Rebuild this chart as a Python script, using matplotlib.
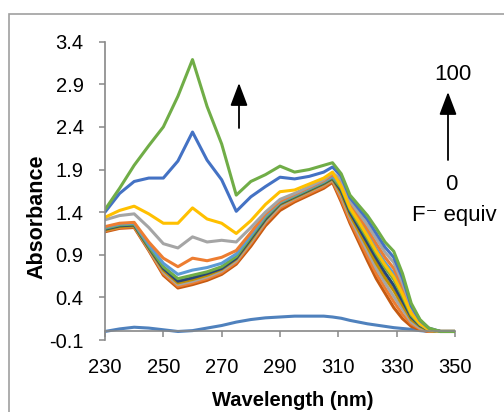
import matplotlib
matplotlib.use("Agg")
import matplotlib.pyplot as plt
from matplotlib.patches import Rectangle

plt.rcParams['font.family'] = ['Liberation Sans', 'DejaVu Sans']

# wavelength grid (nm) and absorbance traces
wl = [230, 235, 240, 245, 250, 255, 260, 265, 270, 275, 280, 285, 290, 295, 300, 305,
      308, 311, 314, 317, 320, 323, 326, 329, 332, 335, 338, 341, 345, 350]

# titration traces, lowest (0 equiv) to highest (100 equiv)
a_b1 = [1.17, 1.21, 1.22, 0.95, 0.66, 0.51, 0.55, 0.60, 0.67, 0.79, 1.00, 1.24, 1.42, 1.52, 1.60, 1.68,
        1.75, 1.52, 1.27, 1.05, 0.83, 0.62, 0.45, 0.28, 0.15, 0.06, 0.02, 0.00, 0.00, 0.00]
a_b2 = [1.18, 1.22, 1.23, 0.96, 0.68, 0.53, 0.57, 0.62, 0.69, 0.81, 1.03, 1.27, 1.45, 1.54, 1.62, 1.70,
        1.77, 1.55, 1.30, 1.09, 0.88, 0.68, 0.51, 0.35, 0.20, 0.09, 0.03, 0.00, 0.00, 0.00]
a_b3 = [1.19, 1.23, 1.24, 0.97, 0.70, 0.55, 0.59, 0.64, 0.71, 0.83, 1.05, 1.29, 1.47, 1.56, 1.64, 1.72,
        1.78, 1.59, 1.34, 1.14, 0.94, 0.74, 0.57, 0.41, 0.26, 0.11, 0.04, 0.01, 0.00, 0.00]
a_b4 = [1.19, 1.23, 1.24, 0.98, 0.72, 0.57, 0.61, 0.66, 0.73, 0.85, 1.07, 1.31, 1.49, 1.57, 1.65, 1.73,
        1.79, 1.62, 1.37, 1.18, 0.99, 0.80, 0.63, 0.48, 0.31, 0.14, 0.06, 0.01, 0.00, 0.00]
a_b5 = [1.20, 1.24, 1.25, 0.99, 0.74, 0.59, 0.63, 0.68, 0.74, 0.86, 1.09, 1.32, 1.50, 1.58, 1.66, 1.74,
        1.80, 1.65, 1.40, 1.22, 1.04, 0.86, 0.69, 0.54, 0.36, 0.17, 0.07, 0.02, 0.00, 0.00]
a_b6 = [1.21, 1.25, 1.26, 1.00, 0.76, 0.62, 0.66, 0.70, 0.76, 0.88, 1.11, 1.34, 1.51, 1.59, 1.67, 1.75,
        1.81, 1.68, 1.43, 1.26, 1.09, 0.91, 0.75, 0.61, 0.41, 0.19, 0.08, 0.02, 0.00, 0.00]
a_b7 = [1.22, 1.26, 1.27, 1.02, 0.80, 0.67, 0.72, 0.75, 0.80, 0.91, 1.13, 1.36, 1.52, 1.60, 1.68, 1.76,
        1.82, 1.72, 1.47, 1.31, 1.15, 0.97, 0.81, 0.68, 0.47, 0.22, 0.09, 0.02, 0.00, 0.00]
a_b8 = [1.23, 1.27, 1.28, 1.05, 0.86, 0.76, 0.86, 0.83, 0.87, 0.95, 1.16, 1.38, 1.53, 1.61, 1.69, 1.77,
        1.84, 1.75, 1.50, 1.35, 1.20, 1.03, 0.87, 0.74, 0.52, 0.25, 0.10, 0.03, 0.00, 0.00]
a_gray = [1.31, 1.36, 1.38, 1.22, 1.03, 0.98, 1.11, 1.05, 1.07, 1.05, 1.22, 1.40, 1.55, 1.62, 1.70, 1.78,
          1.86, 1.78, 1.53, 1.39, 1.25, 1.09, 0.93, 0.81, 0.57, 0.28, 0.12, 0.03, 0.00, 0.00]
a_yel = [1.34, 1.42, 1.47, 1.38, 1.27, 1.27, 1.45, 1.32, 1.27, 1.15, 1.30, 1.49, 1.64, 1.66, 1.73, 1.80,
         1.87, 1.70, 1.45, 1.29, 1.12, 0.94, 0.78, 0.64, 0.44, 0.21, 0.09, 0.02, 0.00, 0.00]
a_blue = [1.40, 1.62, 1.76, 1.80, 1.80, 2.00, 2.34, 2.01, 1.78, 1.41, 1.58, 1.70, 1.81, 1.79, 1.82, 1.87,
          1.93, 1.82, 1.57, 1.44, 1.31, 1.15, 0.99, 0.87, 0.63, 0.30, 0.13, 0.04, 0.00, 0.00]
a_green = [1.43, 1.68, 1.95, 2.18, 2.40, 2.76, 3.19, 2.64, 2.20, 1.60, 1.76, 1.84, 1.94, 1.87, 1.90, 1.95,
           1.98, 1.85, 1.60, 1.48, 1.36, 1.21, 1.05, 0.94, 0.68, 0.33, 0.14, 0.04, 0.00, 0.00]
# near-zero trace
a_base = [0.00, 0.03, 0.05, 0.04, 0.02, 0.00, 0.01, 0.04, 0.07, 0.11, 0.14, 0.16, 0.17, 0.18, 0.18, 0.18,
          0.17, 0.155, 0.13, 0.11, 0.09, 0.075, 0.06, 0.045, 0.035, 0.025, 0.01, 0.00, 0.00, 0.00]

traces = [a_base, a_b1, a_b2, a_b3, a_b4, a_b5, a_b6, a_b7, a_b8,
          a_gray, a_yel, a_blue, a_green]
colors = ["#4F81BD", "#C55A11", "#ED7D31", "#A5A5A5", "#BF9000", "#264478",
          "#70AD47", "#5B9BD5", "#ED7D31", "#A5A5A5", "#FFC000", "#4472C4", "#70AD47"]

xticks = [230, 250, 270, 290, 310, 330, 350]
yticks = [-0.1, 0.4, 0.9, 1.4, 1.9, 2.4, 2.9, 3.4]

W, H = 504, 412
fig = plt.figure(figsize=(W / 100, H / 100), dpi=100)
ax = fig.add_axes([105 / W, 1 - 340 / H, 350 / W, 298.3 / H])

for y, c in zip(traces, colors):
    ax.plot(wl, y, color=c, lw=2.2, solid_capstyle='round', solid_joinstyle='round')

ax.set_xlim(230, 350)
ax.set_ylim(-0.1, 3.4)
ax.set_xticks(xticks)
ax.set_yticks(yticks)
ax.set_yticklabels([f"{v:.1f}" for v in yticks])

axis_c = "#888888"
for s in ["top", "right"]:
    ax.spines[s].set_visible(False)
ax.spines["bottom"].set_position(("data", 0))
ax.spines["bottom"].set_color(axis_c)
ax.spines["left"].set_color(axis_c)
ax.spines["bottom"].set_linewidth(1.2)
ax.spines["left"].set_linewidth(1.2)
ax.tick_params(axis="x", direction="out", length=4.3, width=1.1, color=axis_c,
               labelsize=14.5, pad=15)
ax.tick_params(axis="y", direction="out", length=4.3, width=1.1, color=axis_c,
               labelsize=14.5, pad=11)

fig.text(293 / W, 1 - 400 / H, "Wavelength (nm)", ha="center", va="center",
         fontsize=14.5, weight="bold")
fig.text(37 / W, 1 - 217 / H, "Absorbance", ha="center", va="center",
         rotation=90, fontsize=15.5, weight="bold")

# arrows (figure pixel coords, origin bottom-left)
arrow = dict(arrowstyle="-|>,head_length=1.0,head_width=0.38", mutation_scale=14,
             lw=1.3, color="black", shrinkA=0, shrinkB=0)
ax.annotate("", xy=(239, H - 83), xytext=(239, H - 128),
            xycoords="figure pixels", textcoords="figure pixels", arrowprops=arrow)
ax.annotate("", xy=(448, H - 92), xytext=(448, H - 160),
            xycoords="figure pixels", textcoords="figure pixels", arrowprops=arrow)

fig.text(453 / W, 1 - 75 / H, "100", ha="center", va="center", fontsize=16)
fig.text(451 / W, 1 - 184 / H, "0", ha="center", va="center", fontsize=16)
fig.text(454 / W, 1 - 215 / H, "F\u207b equiv", ha="center", va="center", fontsize=16)

# outer chart frame
fig.add_artist(Rectangle((9 / W, -0.1), 1.2, 1.1 - 14 / H, transform=fig.transFigure,
                         fill=False, edgecolor="#A0A0A0", lw=1.2))

fig.savefig("out.png", dpi=100)
